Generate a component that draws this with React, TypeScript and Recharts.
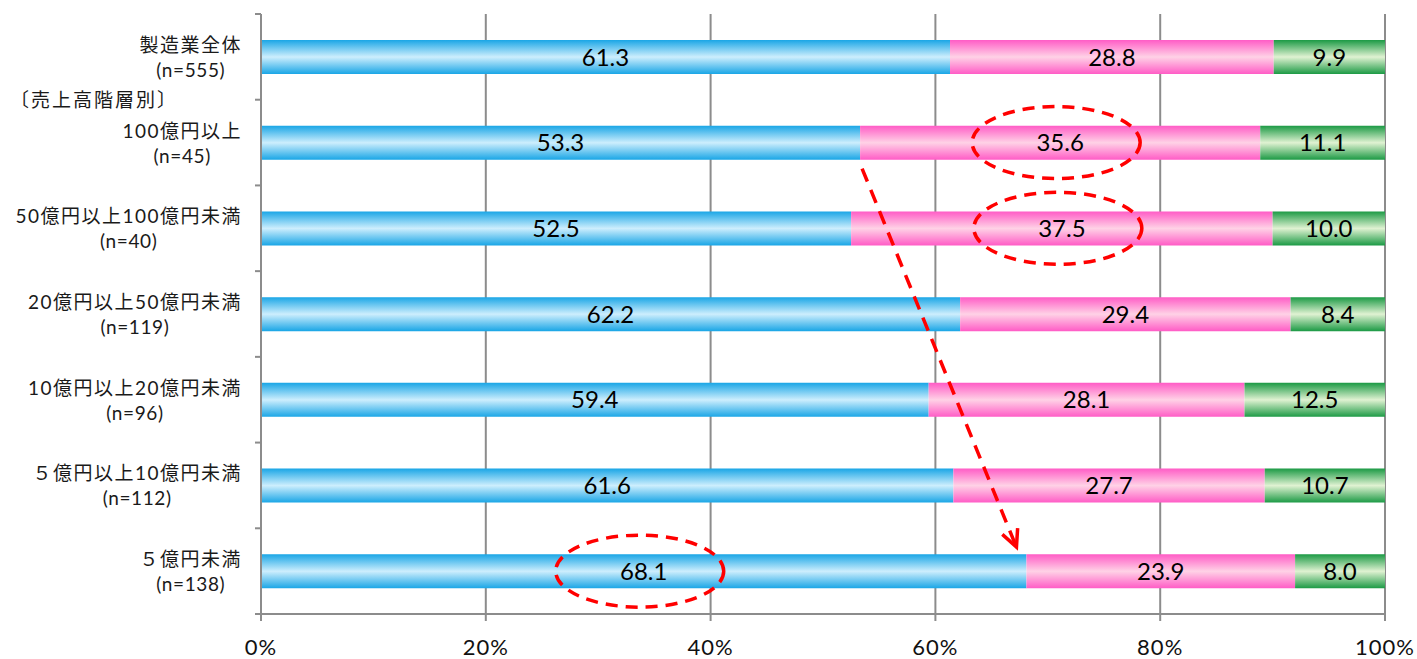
import React from "react";
import {
  Bar,
  BarChart,
  CartesianGrid,
  LabelList,
  ReferenceDot,
  ReferenceLine,
  XAxis,
  YAxis,
} from "recharts";

const categories = [
  "製造業全体",
  "100億円以上",
  "50億円以上100億円未満",
  "20億円以上50億円未満",
  "10億円以上20億円未満",
  "５億円以上10億円未満",
  "５億円未満",
];
const sampleSizes = [555, 45, 40, 119, 96, 112, 138];
const groupHeader = "〔売上高階層別〕";
const seriesA = [61.3, 53.3, 52.5, 62.2, 59.4, 61.6, 68.1];
const seriesB = [28.8, 35.6, 37.5, 29.4, 28.1, 27.7, 23.9];
const seriesC = [9.9, 11.1, 10.0, 8.4, 12.5, 10.7, 8.0];
const xTicks = [0, 20, 40, 60, 80, 100];

const WIDTH = 1417;
const HEIGHT = 659;
const MARGIN = { top: 14, right: 32, left: 0, bottom: 0 };
const X_AXIS_H = 45;
const Y_AXIS_W = 261;
const BAND = (HEIGHT - MARGIN.top - MARGIN.bottom - X_AXIS_H) / categories.length;

const FONT = "Lato, 'Noto Sans CJK JP', sans-serif";
const AXIS_GRAY = "#8c8c8c";
const RED = "#ff0000";
const NAME_SIZE = 19;
const NAME_SPACING = 1.5;

const rows = categories.map((name, i) => ({
  name,
  a: seriesA[i],
  b: seriesB[i],
  c: seriesC[i],
}));

// highlighted segments: circled with a dashed ellipse
const highlights = [
  { name: categories[1], x: seriesA[1] + seriesB[1] / 2 },
  { name: categories[2], x: seriesA[2] + seriesB[2] / 2 },
  { name: categories[6], x: seriesA[6] / 2 },
];

let measureCtx: CanvasRenderingContext2D | null = null;
function textWidth(s: string) {
  if (!measureCtx) {
    measureCtx = document.createElement("canvas").getContext("2d");
  }
  if (!measureCtx) return s.length * NAME_SIZE;
  measureCtx.font = `${NAME_SIZE}px ${FONT}`;
  return measureCtx.measureText(s).width + NAME_SPACING * s.length;
}

// two-line label: name on top, sample size centred under it
function CategoryTick(props: any) {
  const { x, y, payload, index } = props;
  const half = BAND / 2;
  const last = index === categories.length - 1;
  const right = x - 19;
  const w = textWidth(String(payload.value));
  return (
    <g fontFamily={FONT} fill="#1a1a1a">
      <line x1={x - 6} x2={x} y1={y - half} y2={y - half} stroke={AXIS_GRAY} strokeWidth={2} />
      {last && <line x1={x - 6} x2={x} y1={y + half} y2={y + half} stroke={AXIS_GRAY} strokeWidth={2} />}
      {index === 1 && (
        <text x={10} y={y - half + 7} fontSize={NAME_SIZE} letterSpacing={2} textAnchor="start">
          {groupHeader}
        </text>
      )}
      <text x={right} y={y - 5} fontSize={NAME_SIZE} letterSpacing={NAME_SPACING} textAnchor="end">
        {payload.value}
      </text>
      <text x={right - w / 2} y={y + 20} fontSize={19} letterSpacing={0.6} textAnchor="middle">
        {`(n=${sampleSizes[index]})`}
      </text>
    </g>
  );
}

function DashedEllipse(props: any) {
  const { cx, cy } = props;
  return (
    <ellipse
      cx={cx - 4}
      cy={cy}
      rx={84}
      ry={36}
      fill="none"
      stroke={RED}
      strokeWidth={3.5}
      strokeDasharray="12 8"
    />
  );
}

function DashedArrow(props: any) {
  const { x1, y1, x2, y2 } = props;
  const sx = x1 + 2;
  const sy = y1 + 26;
  const ex = x2 - 10;
  const ey = y2 - 24;
  const ang = Math.atan2(ey - sy, ex - sx);
  const len = 19;
  const spread = 0.45;
  const h1x = ex - len * Math.cos(ang - spread);
  const h1y = ey - len * Math.sin(ang - spread);
  const h2x = ex - len * Math.cos(ang + spread);
  const h2y = ey - len * Math.sin(ang + spread);
  return (
    <g stroke={RED} strokeWidth={3.5} fill="none">
      <line x1={sx} y1={sy} x2={ex} y2={ey} strokeDasharray="14 9" />
      <polyline points={`${h1x},${h1y} ${ex},${ey} ${h2x},${h2y}`} strokeLinejoin="miter" />
    </g>
  );
}

const fmt = (v: any) => Number(v).toFixed(1);
const labelStyle = { fill: "#000", fontSize: 24, fontFamily: FONT };

export default function App() {
  return (
    <div style={{ position: "absolute", left: 0, top: 0, background: "#fff" }}>
      <BarChart
        width={WIDTH}
        height={HEIGHT}
        data={rows}
        layout="vertical"
        margin={MARGIN}
        barSize={34}
      >
        <defs>
          <linearGradient id="gradA" x1="0" y1="0" x2="0" y2="1">
            <stop offset="0%" stopColor="#1aa6e6" />
            <stop offset="50%" stopColor="#cdeefd" />
            <stop offset="100%" stopColor="#1aa6e6" />
          </linearGradient>
          <linearGradient id="gradB" x1="0" y1="0" x2="0" y2="1">
            <stop offset="0%" stopColor="#ff5cc6" />
            <stop offset="50%" stopColor="#ffd2e6" />
            <stop offset="100%" stopColor="#ff5cc6" />
          </linearGradient>
          <linearGradient id="gradC" x1="0" y1="0" x2="0" y2="1">
            <stop offset="0%" stopColor="#1c9a45" />
            <stop offset="50%" stopColor="#e0f2d2" />
            <stop offset="100%" stopColor="#1c9a45" />
          </linearGradient>
        </defs>
        <CartesianGrid vertical horizontal={false} stroke={AXIS_GRAY} strokeWidth={2} />
        <XAxis
          type="number"
          domain={[0, 100]}
          ticks={xTicks}
          tickFormatter={(v) => `${v}%`}
          height={X_AXIS_H}
          stroke={AXIS_GRAY}
          strokeWidth={2}
          tickSize={7}
          tickMargin={18}
          tick={{ fill: "#111", fontSize: 22, fontFamily: FONT, letterSpacing: 1 }}
          interval={0}
        />
        <YAxis
          type="category"
          dataKey="name"
          width={Y_AXIS_W}
          stroke={AXIS_GRAY}
          strokeWidth={2}
          tickLine={false}
          tickSize={0}
          tickMargin={0}
          interval={0}
          tick={<CategoryTick />}
        />
        <Bar dataKey="a" stackId="s" fill="url(#gradA)" isAnimationActive={false}>
          <LabelList dataKey="a" position="center" {...labelStyle} formatter={fmt} />
        </Bar>
        <Bar dataKey="b" stackId="s" fill="url(#gradB)" isAnimationActive={false}>
          <LabelList dataKey="b" position="center" {...labelStyle} formatter={fmt} />
        </Bar>
        <Bar dataKey="c" stackId="s" fill="url(#gradC)" isAnimationActive={false}>
          <LabelList dataKey="c" position="center" {...labelStyle} formatter={fmt} />
        </Bar>
        {highlights.map((h) => (
          <ReferenceDot key={h.name} x={h.x} y={h.name} r={1} shape={<DashedEllipse />} />
        ))}
        <ReferenceLine
          segment={[
            { x: seriesA[1], y: categories[1] },
            { x: seriesA[6], y: categories[6] },
          ]}
          shape={<DashedArrow />}
        />
      </BarChart>
    </div>
  );
}
